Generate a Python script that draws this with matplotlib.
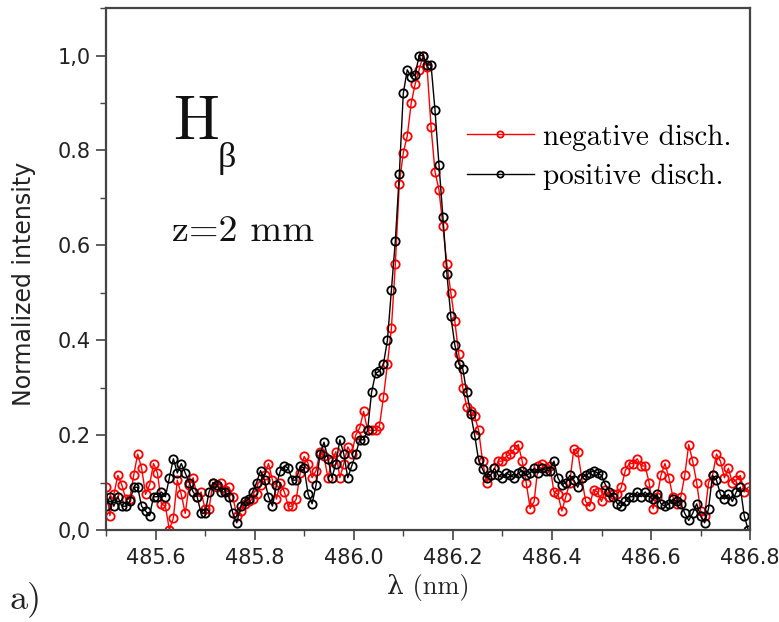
import numpy as np
import matplotlib
matplotlib.use("Agg")
import matplotlib.pyplot as plt
from matplotlib.ticker import MultipleLocator, FuncFormatter

# wavelength grid (nm): 163 samples, 0.008 nm apart
lam_start = 485.5
lam_step = 0.008

pos_disch = [
    0.05, 0.07, 0.05, 0.07, 0.05, 0.05, 0.06, 0.09, 0.09, 0.05,
    0.04, 0.03, 0.07, 0.07, 0.08, 0.07, 0.11, 0.15, 0.12, 0.14,
    0.12, 0.10, 0.08, 0.07, 0.035, 0.035, 0.08, 0.10, 0.095, 0.08,
    0.08, 0.07, 0.035, 0.015, 0.05, 0.06, 0.065, 0.08, 0.10, 0.125,
    0.105, 0.07, 0.05, 0.095, 0.125, 0.135, 0.13, 0.105, 0.105, 0.135,
    0.13, 0.075, 0.055, 0.095, 0.16, 0.185, 0.15, 0.11, 0.14, 0.19,
    0.16, 0.11, 0.135, 0.16, 0.19, 0.19, 0.21, 0.29, 0.33, 0.335,
    0.35, 0.40, 0.505, 0.61, 0.75, 0.92, 0.97, 0.955, 0.96, 1.0,
    1.0, 0.98, 0.98, 0.885, 0.77, 0.66, 0.54, 0.45, 0.39, 0.35,
    0.34, 0.29, 0.245, 0.20, 0.147, 0.128, 0.11, 0.115, 0.13, 0.115,
    0.11, 0.12, 0.115, 0.11, 0.12, 0.125, 0.115, 0.12, 0.13, 0.12,
    0.13, 0.125, 0.125, 0.145, 0.11, 0.095, 0.10, 0.115, 0.105, 0.09,
    0.11, 0.115, 0.12, 0.125, 0.12, 0.115, 0.095, 0.08, 0.07, 0.055,
    0.05, 0.06, 0.07, 0.07, 0.08, 0.07, 0.08, 0.07, 0.065, 0.075,
    0.055, 0.05, 0.055, 0.065, 0.06, 0.055, 0.035, 0.02, 0.035, 0.055,
    0.03, 0.015, 0.045, 0.115, 0.105, 0.075, 0.065, 0.075, 0.06, 0.08,
    0.09, 0.03, 0.0,
]

neg_disch = [
    0.09, 0.03, 0.075, 0.115, 0.095, 0.065, 0.065, 0.115, 0.16, 0.13,
    0.075, 0.095, 0.14, 0.12, 0.055, 0.05, 0.0, 0.025, 0.105, 0.075,
    0.035, 0.095, 0.11, 0.07, 0.08, 0.045, 0.045, 0.10, 0.09, 0.10,
    0.085, 0.09, 0.07, 0.03, 0.04, 0.055, 0.06, 0.065, 0.075, 0.095,
    0.115, 0.14, 0.105, 0.065, 0.10, 0.08, 0.05, 0.05, 0.065, 0.12,
    0.155, 0.14, 0.11, 0.125, 0.165, 0.155, 0.11, 0.145, 0.165, 0.11,
    0.14, 0.175, 0.16, 0.20, 0.215, 0.25, 0.21, 0.21, 0.21, 0.22,
    0.28, 0.35, 0.425, 0.56, 0.73, 0.795, 0.83, 0.90, 0.94, 0.97,
    1.0, 0.975, 0.85, 0.755, 0.717, 0.64, 0.56, 0.50, 0.44, 0.37,
    0.30, 0.26, 0.25, 0.24, 0.21, 0.145, 0.10, 0.115, 0.13, 0.145,
    0.145, 0.155, 0.16, 0.17, 0.18, 0.145, 0.10, 0.045, 0.06, 0.135,
    0.14, 0.13, 0.135, 0.08, 0.075, 0.04, 0.07, 0.10, 0.17, 0.165,
    0.11, 0.06, 0.05, 0.085, 0.08, 0.06, 0.085, 0.07, 0.075, 0.075,
    0.09, 0.125, 0.14, 0.14, 0.15, 0.135, 0.135, 0.10, 0.045, 0.07,
    0.115, 0.14, 0.11, 0.07, 0.055, 0.07, 0.115, 0.18, 0.145, 0.10,
    0.04, 0.03, 0.10, 0.115, 0.16, 0.145, 0.11, 0.13, 0.10, 0.105,
    0.115, 0.08, 0.09,
]

# y tick labels as printed in the figure
ytick_vals = [0.0, 0.2, 0.4, 0.6, 0.8, 1.0]
ytick_text = ['0,0', '0.2', '0.4', '0.6', '0.8', '1,0']

lam = lam_start + lam_step * np.arange(len(pos_disch))

cm = ['cmr10', 'DejaVu Serif']
times = ['Liberation Serif', 'DejaVu Serif']
plt.rcParams['font.family'] = ['DejaVu Sans']
plt.rcParams['axes.formatter.use_mathtext'] = False

fig = plt.figure(figsize=(7.79, 6.22), dpi=100)
ax = fig.add_axes([0.136, 0.148, 0.827, 0.839])

mk = dict(marker='o', markerfacecolor='none', markersize=6, markeredgewidth=1.3, linewidth=1.0)
ax.plot(lam, neg_disch, color='red', label='negative disch.', **mk)
ax.plot(lam, pos_disch, color='black', label='positive disch.', **mk)

ax.set_xlim(485.5, 486.8)
ax.set_ylim(0, 1.1)
ax.xaxis.set_major_locator(MultipleLocator(0.2))
ax.xaxis.set_minor_locator(MultipleLocator(0.1))
ax.set_yticks(ytick_vals)
ax.set_yticklabels(ytick_text)
ax.yaxis.set_minor_locator(MultipleLocator(0.1))
ax.xaxis.set_major_formatter(FuncFormatter(lambda v, p: "%.1f" % v))
ax.tick_params(which='major', direction='out', length=7, width=1.2, labelsize=15, colors='#444444')
ax.tick_params(which='minor', direction='out', length=4, width=1.0, colors='#444444')
ax.tick_params(axis='y', pad=4)
ax.tick_params(axis='x', pad=6)
ax.tick_params(labelcolor='#222222')
for s in ax.spines.values():
    s.set_linewidth(1.6)
    s.set_color('#444444')

ax.set_ylabel('Normalized intensity', fontsize=17, color='#222222')
ax.yaxis.set_label_coords(-0.108, 0.471)
ax.set_xlabel('λ (nm)', fontsize=19, family=cm, color='#222222', labelpad=4)

ax.text(485.635, 0.823, 'H', fontsize=44, family=cm, color='#111111')
ax.text(485.726, 0.764, 'β', fontsize=26, family=times, color='#111111')
ax.text(485.633, 0.608, 'z=2 mm', fontsize=27.5, family=cm, color='#111111')

leg = ax.legend(loc='upper left', bbox_to_anchor=(0.542, 0.80), frameon=False,
                prop={'family': cm, 'size': 21}, handlelength=2.3, handletextpad=0.3,
                labelspacing=0.45, markerscale=0.75, borderaxespad=0)

fig.text(0.012, 0.022, 'a)', fontsize=26, family=cm, color='#222222')

fig.savefig('out.png', dpi=100)
